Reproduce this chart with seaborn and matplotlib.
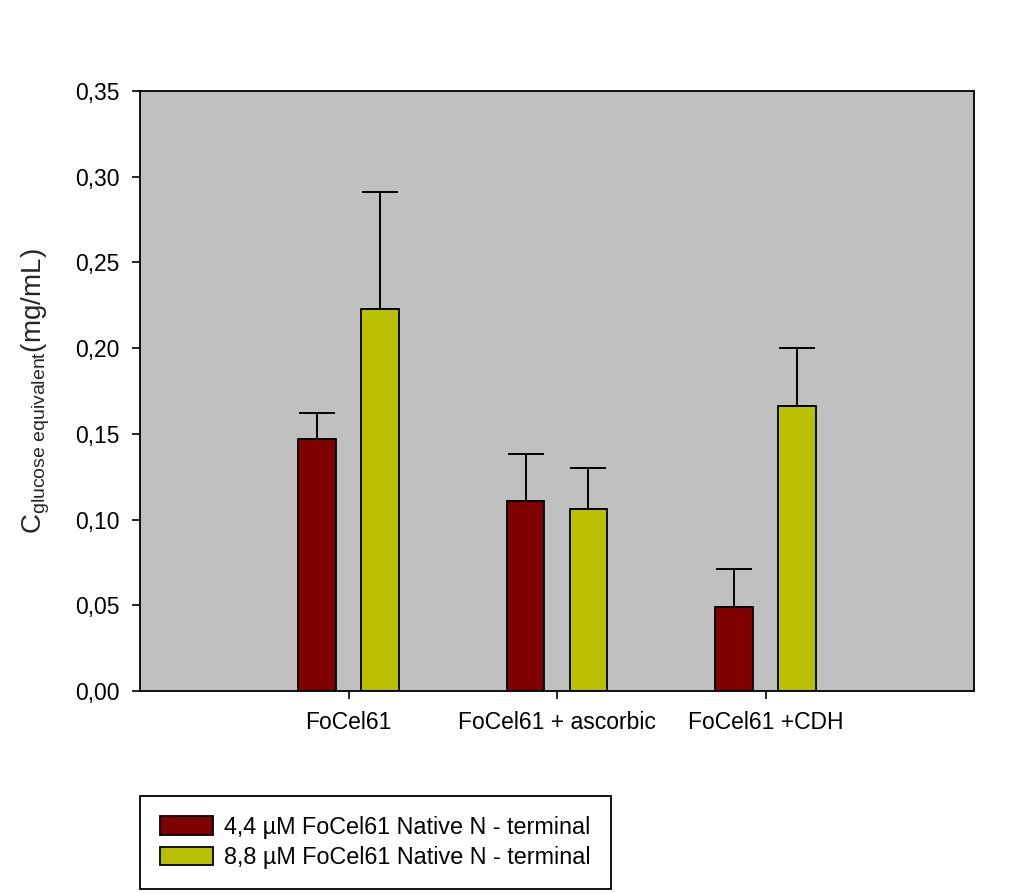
import matplotlib
matplotlib.use("Agg")
import matplotlib.pyplot as plt
import seaborn as sns
import pandas as pd

categories = ["FoCel61", "FoCel61 + ascorbic", "FoCel61 +CDH"]
series_names = ["4,4 µM FoCel61 Native N - terminal", "8,8 µM FoCel61 Native N - terminal"]
values_44 = [0.147, 0.111, 0.049]
errors_44 = [0.015, 0.027, 0.022]
values_88 = [0.223, 0.106, 0.166]
errors_88 = [0.068, 0.024, 0.034]
y_ticks = [0.0, 0.05, 0.10, 0.15, 0.20, 0.25, 0.30, 0.35]
y_tick_labels = ["0,00", "0,05", "0,10", "0,15", "0,20", "0,25", "0,30", "0,35"]
colors = ["#800000", "#b9c000"]

sns.set_style("ticks")
plt.rcParams["font.family"] = ["Liberation Sans", "DejaVu Sans"]
plt.rcParams["mathtext.fontset"] = "custom"
plt.rcParams["mathtext.rm"] = "Liberation Sans"
plt.rcParams["mathtext.it"] = "Liberation Sans"
plt.rcParams["mathtext.default"] = "regular"
plt.rcParams["text.color"] = "black"

df = pd.DataFrame({
    "cat": categories * 2,
    "series": [series_names[0]] * 3 + [series_names[1]] * 3,
    "value": values_44 + values_88,
})

fig = plt.figure(figsize=(10.24, 8.93), dpi=100)
ax = fig.add_axes([140 / 1024, 1 - 691 / 893, 834 / 1024, 600 / 893])
ax.set_facecolor("#c0c0c0")

sns.barplot(data=df, x="cat", y="value", hue="series", palette=colors, saturation=1,
            width=0.6, gap=0.4, errorbar=None, edgecolor="black", linewidth=1.3,
            ax=ax, zorder=2)

# one-sided (upper) error bars drawn from the bar patches
bars = [p for p in ax.patches if p.get_height() > 0]
errs = errors_44 + errors_88
for p, e in zip(bars, errs):
    xc = p.get_x() + p.get_width() / 2
    ax.errorbar(xc, p.get_height(), yerr=[[0], [e]], fmt="none", ecolor="black",
                elinewidth=1.4, capsize=13, capthick=1.4, zorder=3)

ax.set_xlim(-1, 3)
ax.set_ylim(0, 0.35)
ax.set_yticks(y_ticks)
ax.set_yticklabels(y_tick_labels)
ax.set_xlabel("")
ax.set_ylabel(r"C$_{glucose\ equivalent}$(mg/mL)", fontsize=20)
ax.yaxis.set_label_coords(-0.105, 0.5)
ax.tick_params(axis="both", labelsize=16.5, direction="out", length=6, width=1.2,
               colors="black", pad=8.5)
for s in ax.spines.values():
    s.set_visible(True)
    s.set_linewidth(1.3)
    s.set_color("black")

handles, labels = ax.get_legend_handles_labels()
ax.legend_.remove()
leg = fig.legend(handles, labels, loc="upper left",
                 bbox_to_anchor=(140 / 1024, 1 - 796 / 893), fontsize=16.8,
                 frameon=True, fancybox=False, edgecolor="black", framealpha=1,
                 handlelength=2.27, handleheight=0.85, borderpad=0.85, labelspacing=0.31,
                 handletextpad=0.5, borderaxespad=0)
leg.get_frame().set_linewidth(1.3)

fig.savefig("out.png", dpi=100)
